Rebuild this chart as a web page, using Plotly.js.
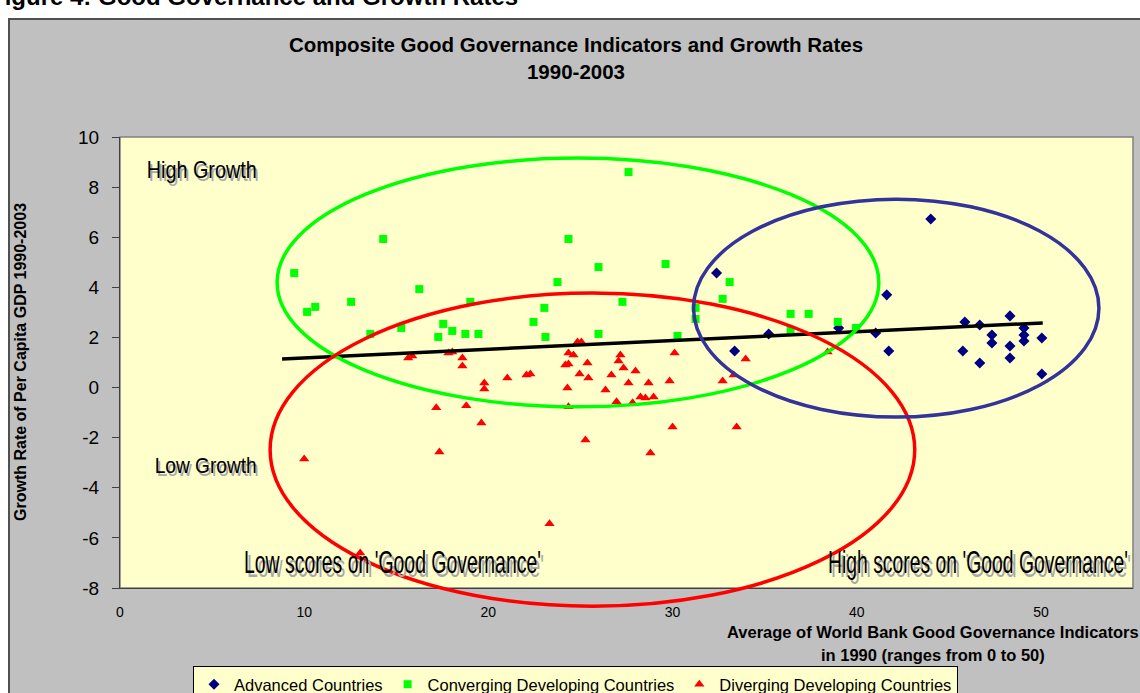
<!DOCTYPE html>
<html><head><meta charset="utf-8">
<script src="https://cdn.plot.ly/plotly-3.0.1.min.js"></script>
<style>html,body{margin:0;padding:0;background:#fff;overflow:hidden}</style>
</head><body><div id="chart" style="width:1140px;height:693px"></div>
<script>
// ---- data ----
const seriesNames = ['Advanced Countries', 'Converging Developing Countries', 'Diverging Developing Countries'];

const advancedX = [32.39, 33.37, 35.22, 39.02, 41.03, 41.63, 41.74, 44.02, 45.87, 45.76, 46.68, 46.68, 47.34, 47.34, 48.32, 48.32, 48.32, 49.08, 49.08, 49.08, 50.05, 50.05];
const advancedY = [4.57, 1.46, 2.14, 2.38, 2.18, 3.70, 1.46, 6.73, 2.62, 1.46, 2.50, 0.98, 2.10, 1.78, 2.86, 1.66, 1.18, 2.38, 2.10, 1.86, 1.98, 0.54];

const convergingX = [9.46, 10.16, 10.60, 12.55, 13.59, 14.29, 15.27, 16.25, 17.28, 17.55, 18.04, 18.75, 19.02, 19.46, 22.45, 23.04, 23.10, 23.75, 24.35, 25.98, 25.98, 27.28, 27.61, 29.62, 30.27, 31.25, 31.25, 32.72, 33.10, 36.41, 37.39, 36.41, 38.97, 39.95];
const convergingY = [4.57, 3.02, 3.22, 3.42, 2.14, 5.93, 2.38, 3.93, 2.02, 2.54, 2.26, 2.14, 3.42, 2.14, 2.62, 3.18, 2.02, 4.21, 5.93, 4.81, 2.14, 3.42, 8.60, 4.93, 2.06, 3.18, 2.74, 3.54, 4.21, 2.94, 2.94, 2.30, 2.62, 2.38];

const divergingX = [10.00, 13.04, 15.65, 15.87, 17.17, 17.34, 17.83, 18.04, 18.59, 18.59, 18.80, 19.62, 19.78, 19.78, 21.03, 22.07, 22.28, 23.32, 24.18, 24.35, 24.35, 24.62, 24.29, 24.35, 24.84, 25.05, 24.95, 25.38, 25.43, 25.27, 26.36, 26.68, 27.07, 27.17, 27.34, 27.61, 27.83, 26.96, 27.99, 28.26, 28.53, 28.97, 28.70, 28.80, 29.84, 30.11, 30.00, 32.72, 33.32, 33.97, 33.48, 38.42];
const divergingY = [-2.85, -6.60, 1.18, 1.26, -0.81, -2.57, 1.38, 1.42, 1.18, 0.86, -0.73, -1.41, 0.18, -0.06, 0.38, 0.50, 0.54, -5.44, 0.90, 0.94, 1.38, 1.30, -0.02, -0.77, 1.82, 1.82, 0.54, 0.98, 0.38, -2.09, -0.10, 0.50, 1.06, 1.30, 0.78, 0.18, -0.61, -0.57, 0.66, -0.38, -0.42, -0.38, 0.18, -2.61, 0.26, 1.38, -1.57, 0.26, 0.50, 1.14, -1.57, 1.42];

const trendX = [8.8, 50.1];
const trendY = [1.14, 2.58];

const xTickVals = [0, 10, 20, 30, 40, 50];
const yTickVals = [-8, -6, -4, -2, 0, 2, 4, 6, 8, 10];

// ---- layout helpers ----
const W = 1140, H = 693;
const M = {l: 120, r: 7, t: 137, b: 105, autoexpand: false};
const PW = W - M.l - M.r, PH = H - M.t - M.b;
const xRange = [0, 55], yRange = [-8, 10];
const px = p => (p - M.l) / PW;
const py = p => (H - M.b - p) / PH;
const dx = v => (v - xRange[0]) / (xRange[1] - xRange[0]);
const dy = v => (v - yRange[0]) / (yRange[1] - yRange[0]);

const SANS = 'Liberation Sans, Arial, sans-serif';

const traces = [
  {x: advancedX, y: advancedY, name: seriesNames[0], type: 'scatter', mode: 'markers',
   marker: {symbol: 'diamond', size: 8.5, color: '#000080'}},
  {x: convergingX, y: convergingY, name: seriesNames[1], type: 'scatter', mode: 'markers',
   marker: {symbol: 'square', size: 8, color: '#00FF00'}},
  {x: divergingX, y: divergingY, name: seriesNames[2], type: 'scatter', mode: 'markers',
   marker: {symbol: 'triangle-up', size: 9, color: '#FF0000'}},
  {x: trendX, y: trendY, type: 'scatter', mode: 'lines', showlegend: false, hoverinfo: 'skip',
   line: {color: '#000000', width: 3.5}}
];

function label(text, x, y, o) {
  return Object.assign({xref: 'paper', yref: 'paper', x: px(x), y: py(y), text: text,
    showarrow: false, xanchor: 'center', yanchor: 'middle'}, o || {});
}
function shadowed(text, cx, cy, size, sx, sy) {
  return [
    label(text, cx, cy, {font: {family: SANS, size: size, color: '#A8A8A8'}, xshift: sx, yshift: -sy}),
    label(text, cx, cy, {font: {family: SANS, size: size, color: '#000000'}})
  ];
}
// condensed labels: target width in px for the text run
const condensed = {
  'High Growth': 110,
  'Low Growth': 102,
  "Low scores on 'Good Governance'": 297,
  "High scores on 'Good Governance'": 300
};

const annotations = [
  label('<b>Figure 4: Good Governance and Growth Rates</b>', -12, 12,
        {xanchor: 'left', yanchor: 'bottom', font: {family: SANS, size: 24, color: '#000'}}),
  label('<b>Growth Rate of Per Capita GDP 1990-2003</b>', 20, 362,
        {textangle: -90, font: {family: SANS, size: 16, color: '#000'}}),
  label('<b>Average of World Bank Good Governance Indicators</b>', 933, 632,
        {font: {family: SANS, size: 16.5, color: '#000'}}),
  label('<b>in 1990 (ranges from 0 to 50)</b>', 933, 655,
        {font: {family: SANS, size: 16.5, color: '#000'}}),
  ...shadowed('High Growth', 201, 170, 24, 2, 3),
  ...shadowed('Low Growth', 205, 465, 22, 2, 3),
  ...shadowed("Low scores on 'Good Governance'", 392, 562, 32, 3, 4),
  ...shadowed("High scores on 'Good Governance'", 978, 562, 32, 3, 4)
];

const shapes = [
  // outer chart frame
  {type: 'rect', xref: 'paper', yref: 'paper', layer: 'below',
   x0: px(9), x1: px(1160), y0: py(710), y1: py(19),
   fillcolor: '#C0C0C0', line: {color: '#505050', width: 2}},
  // plot area
  {type: 'rect', xref: 'paper', yref: 'paper', layer: 'below',
   x0: 0, x1: 1, y0: 0, y1: 1, fillcolor: '#FFFFCC', line: {color: '#808080', width: 1.5}},
  // group ellipses
  {type: 'circle', xref: 'x', yref: 'y', layer: 'above',
   x0: 8.53, x1: 41.2, y0: -0.77, y1: 9.16, line: {color: '#00FF00', width: 3.5}},
  {type: 'circle', xref: 'paper', yref: 'paper', layer: 'above',
   x0: dx(8.15), x1: dx(43.15), y0: dy(-8.73), y1: dy(3.77), line: {color: '#FF0000', width: 3.5}},
  {type: 'circle', xref: 'x', yref: 'y', layer: 'above',
   x0: 31.14, x1: 53.15, y0: -1.18, y1: 7.52, line: {color: '#333399', width: 3.5}}
];

const layout = {
  width: W, height: H,
  margin: M,
  paper_bgcolor: '#FFFFFF',
  plot_bgcolor: 'rgba(0,0,0,0)',
  showlegend: true,
  title: {
    text: '<b>Composite Good Governance Indicators and Growth Rates<br>1990-2003</b>',
    font: {family: SANS, size: 20.5, color: '#000'},
    xref: 'paper', x: px(576), xanchor: 'center',
    yref: 'container', y: 1 - 52 / H, yanchor: 'middle'
  },
  xaxis: {
    range: xRange, tickvals: xTickVals, ticktext: xTickVals.map(String),
    showgrid: false, zeroline: false, showline: true, linecolor: '#404040', linewidth: 1,
    ticks: '', ticklabelstandoff: 11,
    tickfont: {family: SANS, size: 14, color: '#000'}, fixedrange: true
  },
  yaxis: {
    range: yRange, tickvals: yTickVals, ticktext: yTickVals.map(String),
    showgrid: false, zeroline: false, showline: true, linecolor: '#404040', linewidth: 1,
    ticks: 'outside', ticklen: 7, tickcolor: '#404040', tickwidth: 1, ticklabelstandoff: 9,
    tickfont: {family: SANS, size: 19, color: '#000'}, fixedrange: true
  },
  legend: {
    orientation: 'h', xref: 'paper', yref: 'paper',
    x: px(193), y: py(666), xanchor: 'left', yanchor: 'top',
    bgcolor: '#FFFFCC', bordercolor: '#000000', borderwidth: 1,
    font: {family: SANS, size: 16.5, color: '#000'}, tracegroupgap: 0
  },
  annotations: annotations,
  shapes: shapes
};

Plotly.newPlot('chart', traces, layout, {displayModeBar: false, staticPlot: true}).then(function (gd) {
  gd.querySelectorAll('.annotation-text').forEach(function (t) {
    const len = condensed[t.textContent];
    if (len) {
      t.setAttribute('textLength', len);
      t.setAttribute('lengthAdjust', 'spacingAndGlyphs');
    }
  });
});
</script></body></html>
